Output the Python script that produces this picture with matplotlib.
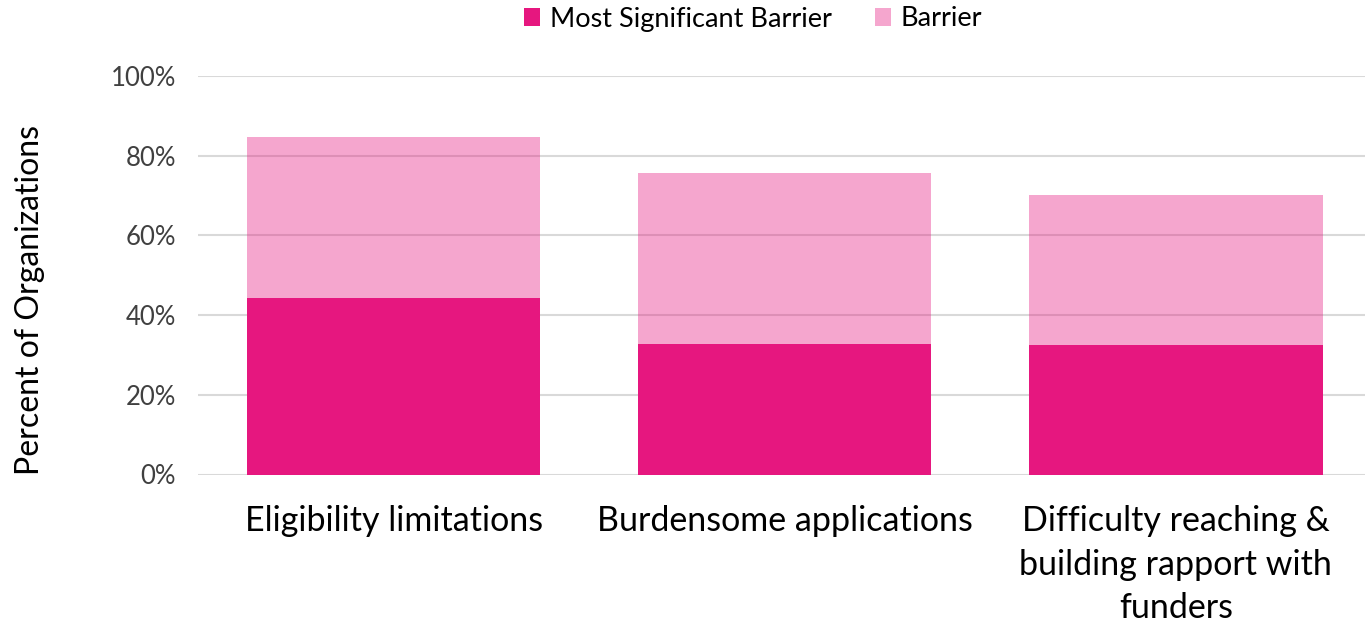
import matplotlib.pyplot as plt
import numpy as np
from matplotlib.patches import Patch
from matplotlib.ticker import PercentFormatter

CATEGORIES = [
    "Eligibility limitations",
    "Burdensome applications",
    "Difficulty reaching &\nbuilding rapport with\nfunders",
]
MOST_SIGNIFICANT = [44.4, 32.7, 32.4]
BARRIER_TOTAL = [84.6, 75.6, 70.1]

MAGENTA = "#E6177F"
LIGHT_ALPHA = 0.38

plt.rcParams["font.family"] = ["Lato", "DejaVu Sans"]

W, H = 1365, 628
fig = plt.figure(figsize=(W / 100, H / 100), dpi=100)
ax = fig.add_axes([198 / W, 1 - 474.5 / H, (W - 198) / W, 398.5 / H])

x = np.arange(len(CATEGORIES))
barrier_only = np.array(BARRIER_TOTAL) - np.array(MOST_SIGNIFICANT)

ax.bar(x, MOST_SIGNIFICANT, width=0.75, color=MAGENTA, zorder=2)
ax.bar(
    x,
    barrier_only,
    bottom=MOST_SIGNIFICANT,
    width=0.75,
    color=MAGENTA,
    alpha=LIGHT_ALPHA,
    linewidth=0,
    zorder=3,
)

ax.set_xlim(-0.5, (W - 394) / 391)
ax.set_ylim(0, 100)
ax.set_yticks(np.arange(0, 101, 20))
ax.yaxis.set_major_formatter(PercentFormatter(decimals=0))
ax.grid(True, axis="y", color="#D9D9D9", linewidth=1.5, zorder=1)
ax.set_axisbelow(True)
ax.tick_params(axis="y", length=0, labelsize=18.5, pad=16, colors="#404040")
ax.tick_params(axis="x", length=0, labelsize=24.5, pad=22)
ax.set_xticks(x)
ax.set_xticklabels(CATEGORIES, linespacing=1.45)

for side in ["top", "right", "left", "bottom"]:
    ax.spines[side].set_visible(False)

fig.text(
    30 / W,
    1 - 300 / H,
    "Percent of Organizations",
    rotation=90,
    ha="center",
    va="center",
    fontsize=23,
)

legend_elements = [
    Patch(facecolor=MAGENTA, label="Most Significant Barrier"),
    Patch(facecolor=MAGENTA, alpha=LIGHT_ALPHA, label="Barrier"),
]
fig.legend(
    handles=legend_elements,
    loc="center",
    bbox_to_anchor=(753 / W, 1 - 19 / H),
    ncol=2,
    frameon=False,
    fontsize=19.5,
    handlelength=0.6,
    handleheight=0.6,
    handletextpad=0.35,
    columnspacing=1.6,
)

fig.savefig("out.png", dpi=100)
